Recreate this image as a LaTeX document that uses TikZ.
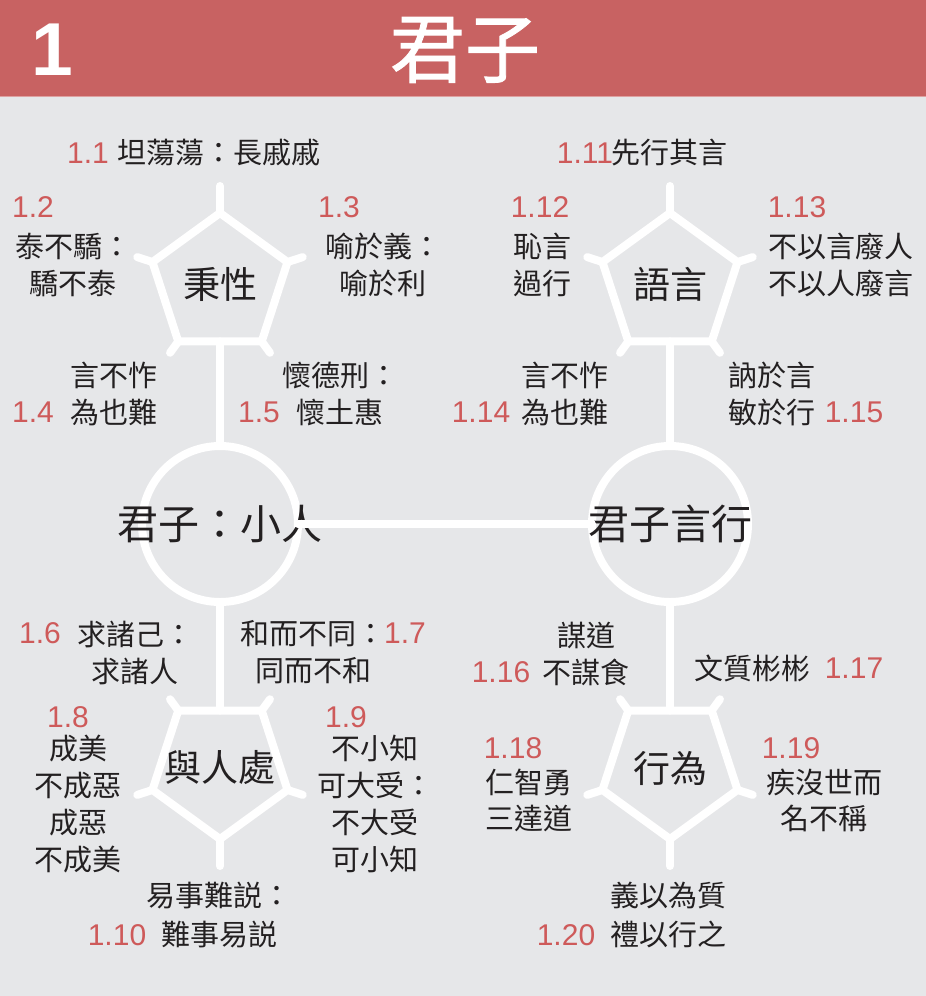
\documentclass[tikz,border=0pt]{standalone}
\usepackage{fontspec}
\setmainfont{Liberation Sans}
\newfontfamily\cjk{Noto Sans CJK TC}
\newfontfamily\cjkhead[FakeBold=1.2]{Noto Sans CJK TC}
\usetikzlibrary{shapes.geometric, positioning, calc}
\definecolor{jzred}{RGB}{200,98,98}
\definecolor{jznum}{RGB}{206,90,90}
\definecolor{jzbg}{RGB}{230,231,233}
\definecolor{jzink}{RGB}{35,32,33}

\begin{document}
\begin{tikzpicture}[x=1pt, y=1pt,
  pent/.style={regular polygon, regular polygon sides=5, minimum size=142pt, inner sep=0pt, outer sep=0pt, draw=white, line width=8pt, font=\cjk\fontsize{37}{37}\selectfont, text=jzink},
  hub/.style={circle, minimum size=156pt, inner sep=0pt, outer sep=0pt, draw=white, line width=8pt, font=\cjk\fontsize{41}{41}\selectfont, text=jzink},
  saying/.style={align=center, inner sep=0pt, font=\cjk\fontsize{29}{37}\selectfont, text=jzink},
  num/.style={inner sep=0pt, font=\fontsize{30}{30}\selectfont, text=jznum},
  wline/.style={draw=white, line width=8pt, line cap=round}
]
\useasboundingbox (0,0) rectangle (926,-996);
\fill[jzbg] (0,0) rectangle (926,-996);
% header
\fill[jzred] (0,0) rectangle (926,-96);
\draw[jzred!60!white, line width=1pt] (0,-96.5) -- (926,-96.5);
\node[font=\bfseries\fontsize{75}{75}\selectfont, text=white, inner sep=0pt] (chap) at (52,-50) {1};
\node[font=\cjkhead\fontsize{75}{75}\selectfont, text=white, inner sep=0pt] (title) at (465,-50) {君子};

% hubs and pentagons
\node[hub] (xiaoren) at (220,-524) {\makebox[0pt]{君子：小人}};
\node[hub] (yanxing) at (670,-524) {\makebox[0pt]{君子言行}};
\node[pent] (bingxing) at (220,-284) {\makebox[0pt]{秉性}};
\node[pent, shape border rotate=180] (churen) at (220,-768) {\makebox[0pt]{與人處}};
\node[pent] (yuyan) at (670,-284) {\makebox[0pt]{語言}};
\node[pent, shape border rotate=180] (xingwei) at (670,-768) {\makebox[0pt]{行為}};
\draw[wline] (bingxing.south) -- (xiaoren.north);
\draw[wline] (xiaoren.south) -- (churen.north);
\draw[wline] (yuyan.south) -- (yanxing.north);
\draw[wline] (yanxing.south) -- (xingwei.north);
\draw[wline] (xiaoren.east) -- (yanxing.west);
% spokes
\foreach \n in {bingxing, churen, yuyan, xingwei}
  \foreach \c/\l in {1/98, 2/87, 3/85, 4/85, 5/87} {
    \coordinate (\n-\c) at ($(\n.center)!\l pt!(\n.corner \c)$);
    \draw[wline] (\n.corner \c) -- (\n-\c);
  }

% 秉性
\node[num] (n11) at (88,-153) {1.1};
\node[saying] (s11) at (219,-153) {坦蕩蕩：長戚戚};
\node[num] (n12) at (33,-207) {1.2};
\node[saying] (s12) at (73,-265) {泰不驕：\\驕不泰};
\node[num] (n13) at (339,-207) {1.3};
\node[saying] (s13) at (383,-265) {喻於義：\\喻於利};
\node[saying] (s14) at (114,-393.5) {言不怍\\為也難};
\node[num] (n14) at (33,-412) {1.4};
\node[saying] (s15) at (340,-393.5) {懷德刑：\\懷土惠};
\node[num] (n15) at (259,-412) {1.5};

% 語言
\node[num] (n111) at (585,-153) {1.11};
\node[saying] (s111) at (669,-153) {先行其言};
\node[num] (n112) at (540,-207) {1.12};
\node[saying] (s112) at (542,-265) {恥言\\過行};
\node[num] (n113) at (797,-207) {1.13};
\node[saying] (s113) at (841,-265) {不以言廢人\\不以人廢言};
\node[saying] (s114) at (565,-393.5) {言不怍\\為也難};
\node[num] (n114) at (481,-412) {1.14};
\node[saying] (s115) at (772,-393.5) {訥於言\\敏於行};
\node[num] (n115) at (854,-412) {1.15};

% 與人處
\node[num] (n16) at (40,-633) {1.6};
\node[saying] (s16) at (135,-652.5) {求諸己：\\求諸人};
\node[saying] (s17) at (313,-652.5) {和而不同：\\同而不和};
\node[num] (n17) at (405,-633) {1.7};
\node[num] (n18) at (68,-717) {1.8};
\node[saying] (s18) at (78,-804) {成美\\不成惡\\成惡\\不成美};
\node[num] (n19) at (346,-717) {1.9};
\node[saying] (s19) at (375,-804) {不小知\\可大受：\\不大受\\可小知};
\node[saying, font=\cjk\fontsize{29}{39}\selectfont] (s110) at (219,-915) {易事難説：\\難事易説};
\node[num] (n110) at (117,-935) {1.10};

% 行為
\node[saying] (s116) at (586,-653.5) {謀道\\不謀食};
\node[num] (n116) at (501,-672) {1.16};
\node[saying] (s117) at (752,-668) {文質彬彬};
\node[num] (n117) at (854,-668) {1.17};
\node[num] (n118) at (513,-748) {1.18};
\node[saying, font=\cjk\fontsize{29}{36}\selectfont] (s118) at (529,-800) {仁智勇\\三達道};
\node[num] (n119) at (791,-748) {1.19};
\node[saying, font=\cjk\fontsize{29}{36}\selectfont] (s119) at (824,-800) {疾沒世而\\名不稱};
\node[saying, font=\cjk\fontsize{29}{39}\selectfont] (s120) at (668,-915) {義以為質\\禮以行之};
\node[num] (n120) at (566,-935) {1.20};
\end{tikzpicture}
\end{document}
